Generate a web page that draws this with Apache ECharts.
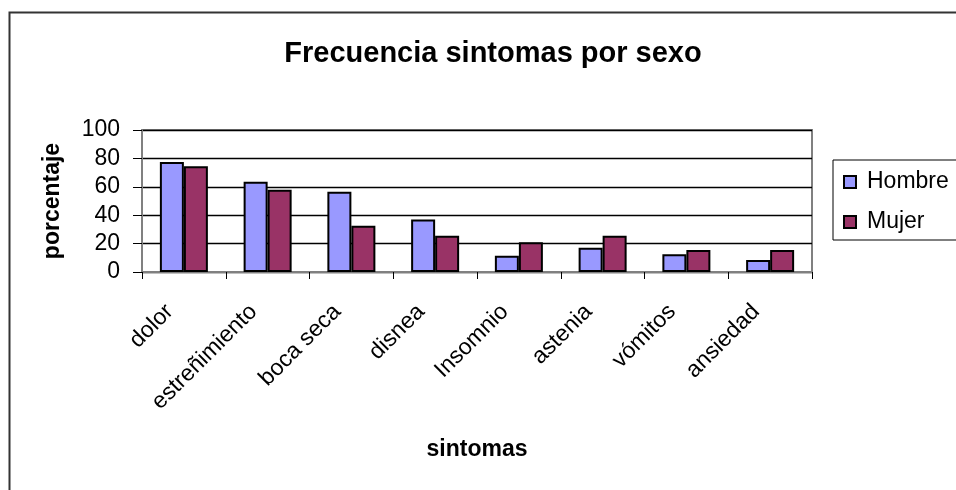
<!DOCTYPE html>
<html>
<head>
<meta charset="utf-8">
<script src="https://cdn.jsdelivr.net/npm/echarts@6/dist/echarts.min.js"></script>
<style>
  html, body { margin: 0; padding: 0; background: #fff; }
  #chart { width: 956px; height: 490px; }
</style>
</head>
<body>
<div id="chart"></div>
<script>
const categories = ["dolor", "estreñimiento", "boca seca", "disnea", "Insomnio", "astenia", "vómitos", "ansiedad"];
const hombreData = [77.5, 63.5, 56.5, 37, 11.5, 17, 12.5, 8.5];
const mujerData = [74.5, 58, 32.5, 25.5, 21, 25.5, 15.5, 15.5];
const yMin = 0, yMax = 100, yStep = 20;

const font = "Liberation Sans, Arial, sans-serif";
const chartDom = echarts.init(document.getElementById("chart"));

let option = {
  animation: false,
  textStyle: { fontFamily: font, color: "#000" },
  title: {
    text: "Frecuencia sintomas por sexo",
    left: 493,
    top: 39,
    textAlign: "center",
    padding: 0,
    textStyle: { fontFamily: font, fontSize: 29, fontWeight: "bold", color: "#000" },
  },
  // marco exterior del gráfico
  graphic: [
    {
      type: "rect",
      shape: { x: 9.5, y: 12.5, width: 1000, height: 520 },
      style: { fill: null, stroke: "#333", lineWidth: 2 },
      silent: true,
    },
  ],
  legend: {
    orient: "vertical",
    left: 833,
    top: 160,
    icon: "rect",
    itemWidth: 12,
    itemHeight: 12,
    itemGap: 16,
    padding: [10, 40, 6, 10],
    borderColor: "#000",
    borderWidth: 1,
    textStyle: { fontFamily: font, fontSize: 23, color: "#000", lineHeight: 24, padding: [0, 0, 0, 6] },
    data: ["Hombre", "Mujer"],
  },
  grid: {
    left: 142,
    right: 144,
    top: 130,
    bottom: 218,
    show: true,
    borderColor: "#808080",
    borderWidth: 2,
  },
  xAxis: {
    type: "category",
    data: categories,
    name: "sintomas",
    nameLocation: "middle",
    nameGap: 166,
    nameTextStyle: { fontFamily: font, fontSize: 23, fontWeight: "bold", color: "#000" },
    axisLine: { lineStyle: { color: "#808080", width: 2 } },
    axisTick: { show: true, length: 7, lineStyle: { color: "#000" } },
    axisLabel: { interval: 0, rotate: 45, margin: 22, padding: [0, 20, 0, 0], fontSize: 23, color: "#000", fontFamily: font },
  },
  yAxis: {
    type: "value",
    min: yMin,
    max: yMax,
    interval: yStep,
    name: "porcentaje",
    nameLocation: "middle",
    nameRotate: 90,
    nameGap: 78,
    nameTextStyle: { fontFamily: font, fontSize: 23, fontWeight: "bold", color: "#000" },
    axisLine: { show: true, lineStyle: { color: "#808080", width: 2 } },
    axisTick: { show: true, length: 9, lineStyle: { color: "#000" } },
    axisLabel: { margin: 22, fontSize: 23, color: "#000", fontFamily: font },
    splitLine: { lineStyle: { color: "#000", width: 1.3 } },
  },
  series: [
    {
      name: "Hombre",
      type: "bar",
      data: hombreData,
      barWidth: 24,
      barGap: "0%",
      itemStyle: { color: "#9999FF", borderColor: "#000", borderWidth: 2 },
    },
    {
      name: "Mujer",
      type: "bar",
      data: mujerData,
      barWidth: 24,
      barGap: "0%",
      itemStyle: { color: "#993366", borderColor: "#000", borderWidth: 2 },
    },
  ],
};
chartDom.setOption(option);
</script>
</body>
</html>
